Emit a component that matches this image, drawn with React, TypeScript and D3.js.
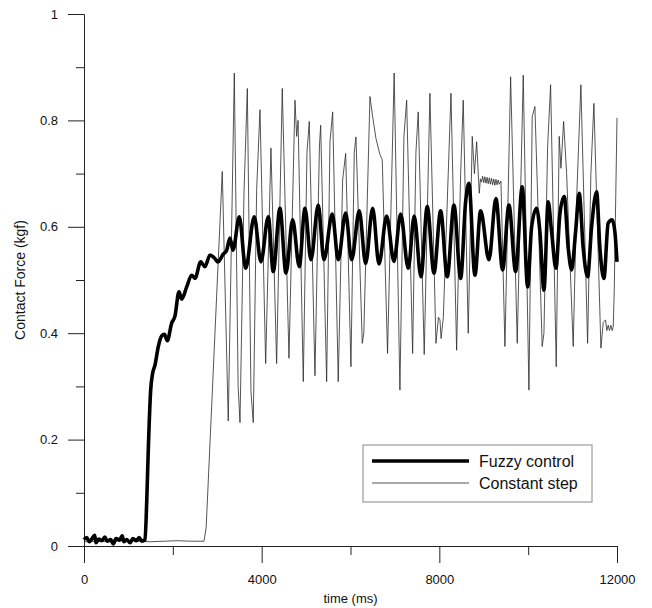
import React, { useEffect, useRef } from "react";
import * as d3 from "d3";

// time (ms), contact force (kgf)
const fuzzyIdle: [number, number][] = [
  [0, 0.012], [60, 0.016], [120, 0.008], [180, 0.014], [240, 0.02], [270, 0.006],
  [330, 0.013], [400, 0.01], [470, 0.017], [520, 0.009], [600, 0.012], [660, 0.004],
  [720, 0.014], [800, 0.011], [860, 0.019], [900, 0.008], [960, 0.012], [1040, 0.006],
  [1100, 0.014], [1180, 0.01], [1240, 0.016], [1300, 0.009], [1373, 0.012],
];

const fuzzyRise: [number, number][] = [
  [1411, 0.08], [1447, 0.18], [1501, 0.293], [1546, 0.325], [1598, 0.34], [1673, 0.375],
  [1749, 0.395], [1810, 0.398], [1875, 0.386], [1974, 0.419], [2048, 0.432], [2138, 0.478],
  [2199, 0.464], [2312, 0.487], [2424, 0.509], [2499, 0.503], [2627, 0.534], [2724, 0.525],
  [2836, 0.547], [2950, 0.54], [3016, 0.534], [3130, 0.548], [3212, 0.556],
];

const fuzzyOscillation: [number, number][] = [
  [3286, 0.579], [3354, 0.556], [3496, 0.619], [3640, 0.522], [3833, 0.619], [3984, 0.534],
  [4149, 0.619], [4261, 0.516], [4412, 0.635], [4547, 0.513], [4698, 0.613], [4846, 0.525],
  [4975, 0.635], [5110, 0.538], [5274, 0.641], [5402, 0.538], [5589, 0.624], [5724, 0.538],
  [5891, 0.626], [6026, 0.538], [6197, 0.63], [6341, 0.531], [6499, 0.635], [6641, 0.53],
  [6814, 0.62], [6978, 0.535], [7129, 0.624], [7300, 0.522], [7435, 0.62], [7586, 0.506],
  [7728, 0.638], [7879, 0.513], [8029, 0.63], [8178, 0.506], [8329, 0.641], [8480, 0.503],
  [8592, 0.647], [8666, 0.682], [8801, 0.509], [8930, 0.63], [9117, 0.538], [9274, 0.653],
  [9425, 0.519], [9567, 0.641], [9718, 0.516], [9866, 0.675], [9988, 0.487], [10078, 0.6],
  [10190, 0.635], [10265, 0.59], [10355, 0.481], [10451, 0.647], [10528, 0.59], [10625, 0.522],
  [10715, 0.625], [10812, 0.657], [10902, 0.56], [10978, 0.519], [11068, 0.591], [11149, 0.663],
  [11239, 0.56], [11338, 0.506], [11428, 0.6], [11541, 0.666], [11615, 0.56], [11705, 0.503],
  [11802, 0.607], [11892, 0.613], [11953, 0.59], [12000, 0.534],
];

const stepIdle: [number, number][] = [
  [0, 0.008], [300, 0.009], [600, 0.008], [900, 0.01], [1200, 0.009], [1500, 0.008],
  [1800, 0.009], [2100, 0.01], [2400, 0.009], [2701, 0.009],
];

const stepOscillation: [number, number][] = [
  [2750, 0.034], [3113, 0.704], [3248, 0.235], [3339, 0.669], [3384, 0.889], [3470, 0.3],
  [3512, 0.232], [3602, 0.663], [3677, 0.86], [3759, 0.29], [3811, 0.232], [3887, 0.67],
  [3962, 0.82], [4090, 0.343], [4209, 0.748], [4337, 0.343], [4464, 0.86], [4615, 0.353],
  [4750, 0.838], [4788, 0.77], [4820, 0.8], [4937, 0.309], [5020, 0.74], [5072, 0.798],
  [5200, 0.32], [5300, 0.75], [5328, 0.791], [5463, 0.309], [5538, 0.76], [5598, 0.816],
  [5724, 0.309], [5823, 0.688], [5891, 0.738], [6010, 0.337], [6085, 0.74], [6123, 0.769],
  [6265, 0.381], [6300, 0.4], [6438, 0.845], [6499, 0.807], [6573, 0.766], [6663, 0.736],
  [6715, 0.726], [6834, 0.362], [6983, 0.889], [7113, 0.293], [7203, 0.77], [7264, 0.838],
  [7399, 0.362], [7473, 0.74], [7525, 0.816], [7660, 0.36], [7788, 0.851], [7924, 0.381],
  [7980, 0.43], [8014, 0.425], [8040, 0.39], [8090, 0.43], [8262, 0.851], [8389, 0.368],
  [8480, 0.7], [8538, 0.838], [8651, 0.4], [8741, 0.77], [8790, 0.7], [8840, 0.76],
  [8899, 0.663], [8925, 0.69], [8950, 0.684], [8975, 0.695], [9000, 0.683], [9025, 0.694],
  [9050, 0.682], [9075, 0.693], [9100, 0.681], [9125, 0.692], [9150, 0.68], [9175, 0.691],
  [9200, 0.679], [9225, 0.69], [9250, 0.678], [9275, 0.689], [9300, 0.679], [9325, 0.688],
  [9350, 0.68], [9387, 0.686], [9477, 0.375], [9605, 0.882], [9754, 0.381], [9889, 0.885],
  [10017, 0.293], [10091, 0.807], [10152, 0.826], [10316, 0.375], [10355, 0.4], [10438, 0.75],
  [10505, 0.867], [10632, 0.337], [10699, 0.77], [10738, 0.71], [10798, 0.798], [10866, 0.7],
  [11014, 0.375], [11090, 0.65], [11187, 0.867], [11338, 0.381], [11412, 0.7], [11480, 0.832],
  [11638, 0.372], [11690, 0.42], [11743, 0.425], [11770, 0.405], [11802, 0.415], [11830, 0.405],
  [11863, 0.415], [11890, 0.405], [11915, 0.412], [11938, 0.48], [12000, 0.805],
];

const xMajorTicks = [0, 4000, 8000, 12000];
const xMinorTicks = [2000, 6000, 10000];
const yMajorTicks = [0, 0.2, 0.4, 0.6, 0.8, 1];
const yMinorTicks = [0.1, 0.3, 0.5, 0.7, 0.9];

const seriesNames = ["Fuzzy control", "Constant step"];

const FONT = "'Liberation Sans', Arial, sans-serif";

const App = () => {
  const xAxisRef = useRef<SVGGElement>(null);
  const yAxisRef = useRef<SVGGElement>(null);

  const width = 652;
  const height = 608;
  const margin = { top: 14, right: 35, bottom: 62, left: 84 };

  const x = d3.scaleLinear().domain([0, 12000]).range([margin.left, width - margin.right]);
  const y = d3.scaleLinear().domain([0, 1]).range([height - margin.bottom, margin.top]);

  const fuzzy = [...fuzzyIdle, ...fuzzyRise, ...fuzzyOscillation];
  const step = [...stepIdle, ...stepOscillation];

  const fuzzyLine = d3
    .line<[number, number]>()
    .x((d) => x(d[0]))
    .y((d) => y(d[1]))
    .curve(d3.curveMonotoneX);

  const stepLine = d3
    .line<[number, number]>()
    .x((d) => x(d[0]))
    .y((d) => y(d[1]));

  useEffect(() => {
    const gx = d3.select(xAxisRef.current);
    gx.selectAll("*").remove();
    // minor ticks
    gx.append("g").call(
      d3.axisBottom(x).tickValues(xMinorTicks).tickSize(9).tickSizeOuter(0).tickFormat(() => "")
    );
    // major ticks + labels
    gx.append("g").call(
      d3.axisBottom(x).tickValues(xMajorTicks).tickSize(17).tickSizeOuter(0).tickPadding(12)
        .tickFormat(d3.format("d"))
    );

    const gy = d3.select(yAxisRef.current);
    gy.selectAll("*").remove();
    gy.append("g").call(
      d3.axisLeft(y).tickValues(yMinorTicks).tickSize(8).tickSizeOuter(0).tickFormat(() => "")
    );
    gy.append("g").call(
      d3.axisLeft(y).tickValues(yMajorTicks).tickSize(16).tickSizeOuter(0).tickPadding(10)
        .tickFormat((d) => String(d))
    );

    [gx, gy].forEach((g) => {
      g.selectAll("g").attr("font-family", FONT).attr("font-size", 13);
      g.selectAll("text").attr("fill", "#111");
      g.selectAll("line").attr("stroke", "#222");
      g.selectAll("path.domain").attr("stroke", "#222");
    });
  }, []);

  return (
    <svg
      width={width}
      height={height}
      style={{ position: "absolute", left: 0, top: 0, background: "#fff" }}
    >
      <g ref={xAxisRef} transform={`translate(0, ${y(0)})`} />
      <g ref={yAxisRef} transform={`translate(${x(0)}, 0)`} />

      <path d={stepLine(step) ?? ""} fill="none" stroke="#2a2a2a" strokeWidth={0.8} />
      <path
        d={fuzzyLine(fuzzy) ?? ""}
        fill="none"
        stroke="#000"
        strokeWidth={3.6}
        strokeLinejoin="round"
      />

      <text
        transform="rotate(-90)"
        x={-(y(0) + y(1)) / 2}
        y={25}
        textAnchor="middle"
        fontFamily={FONT}
        fontSize={14}
        fill="#111"
      >
        Contact Force (kgf)
      </text>
      <text
        x={(x(0) + x(12000)) / 2}
        y={603}
        textAnchor="middle"
        fontFamily={FONT}
        fontSize={13}
        fill="#111"
      >
        time (ms)
      </text>

      <g>
        <rect x={363} y={445} width={229} height={57} fill="#fff" stroke="#888" strokeWidth={1} />
        <line x1={372} x2={469} y1={461} y2={461} stroke="#000" strokeWidth={3.6} />
        <line x1={372} x2={469} y1={483} y2={483} stroke="#2a2a2a" strokeWidth={0.8} />
        <text x={479} y={467} fontFamily={FONT} fontSize={16} fill="#111">
          {seriesNames[0]}
        </text>
        <text x={479} y={489} fontFamily={FONT} fontSize={16} fill="#111">
          {seriesNames[1]}
        </text>
      </g>
    </svg>
  );
};

export default App;
